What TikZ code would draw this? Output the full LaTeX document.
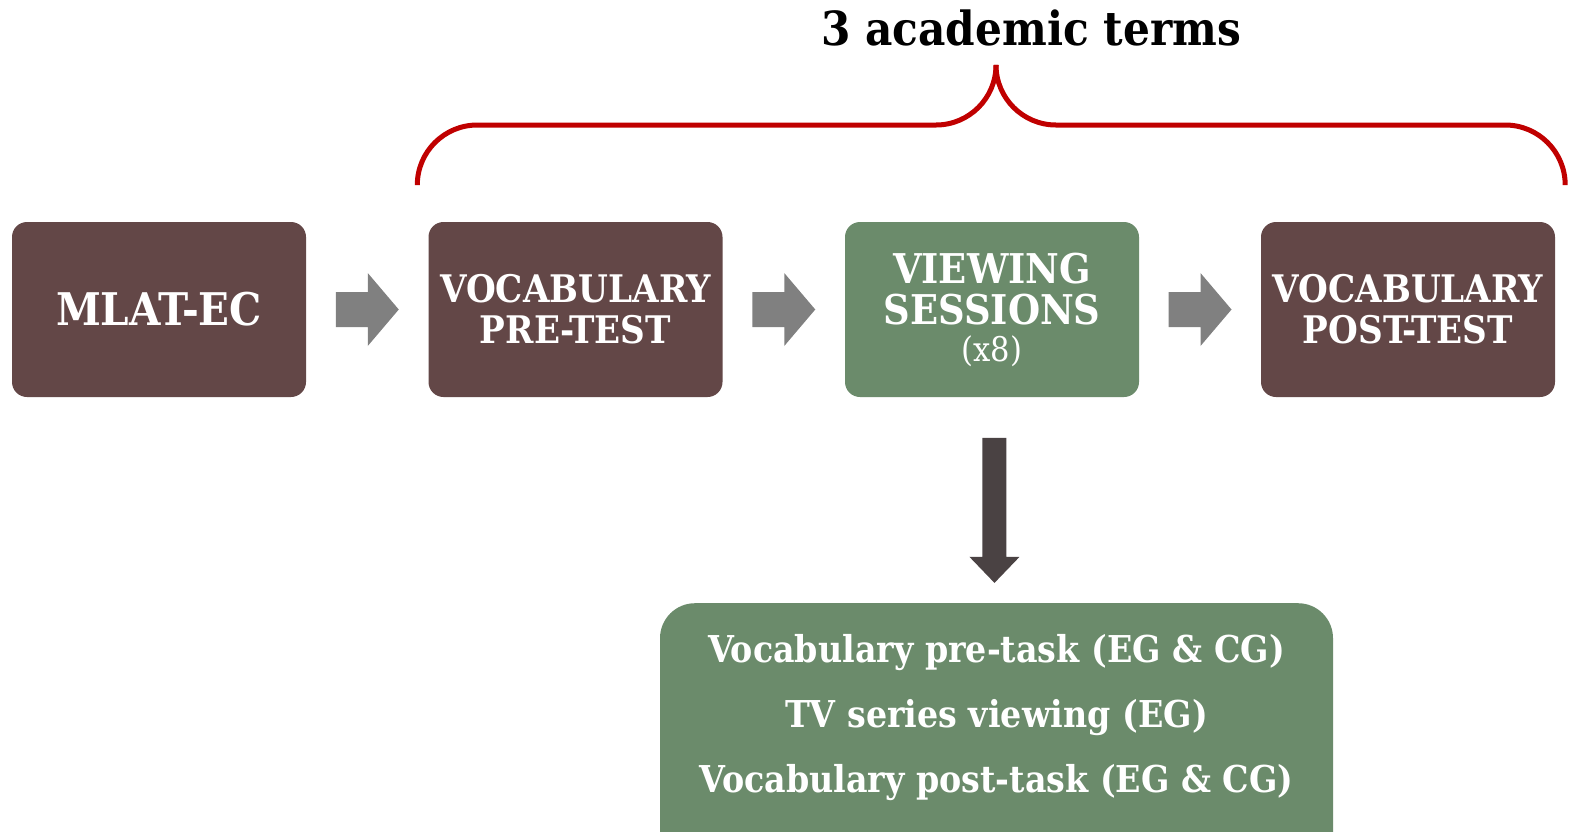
\documentclass[tikz,border=0pt]{standalone}
\usepackage{fontspec}
\setmainfont{DejaVu Serif}[FakeStretch=0.9]
\usetikzlibrary{calc}
\definecolor{boxbrown}{HTML}{634747}
\definecolor{boxgreen}{HTML}{6B8B6B}
\definecolor{arrgray}{HTML}{808080}
\definecolor{arrdark}{HTML}{4A4243}
\definecolor{bracered}{HTML}{C00000}
\tikzset{
  stagebox/.style={rounded corners=15pt, minimum width=294pt, minimum height=175pt,
    inner sep=0pt, text=white, align=center, font=\bfseries\fontsize{38}{41}\selectfont},
  brownbox/.style={stagebox, fill=boxbrown},
  greenbox/.style={stagebox, fill=boxgreen},
  tasktext/.style={text=white, font=\bfseries\fontsize{37}{40}\selectfont, anchor=base, inner sep=0pt},
  rarrow/.pic={\fill[arrgray] (-31.5,-17.5) -- (0.5,-17.5) -- (0.5,-36.5) -- (31.5,0)
      -- (0.5,36.5) -- (0.5,17.5) -- (-31.5,17.5) -- cycle;},
  darrow/.pic={\fill[arrdark] (-12,-72.5) -- (12,-72.5) -- (12,46.5) -- (25,46.5) -- (0,72.5)
      -- (-25,46.5) -- (-12,46.5) -- cycle;}
}
\begin{document}
\begin{tikzpicture}[x=1pt,y=-1pt]
\useasboundingbox (0,0) rectangle (1571,831);
% stage boxes
\node[brownbox] (mlat) at (159,309.5) {\fontsize{45}{48}\selectfont MLAT-EC};
\node[brownbox] (pre) at (575.5,309.5) {VOCABULARY\\PRE-TEST};
\node[greenbox] (view) at (992,309.5) {\fontsize{41}{45}\selectfont VIEWING\\\fontsize{41}{45}\selectfont SESSIONS\\[-4pt]{\mdseries\fontsize{34}{36}\selectfont (x8)}};
\node[brownbox] (post) at (1408,309.5) {VOCABULARY\\POST-TEST};
% horizontal arrows
\pic at ($(mlat.east)!0.5!(pre.west)$) {rarrow};
\pic at ($(pre.east)!0.5!(view.west)$) {rarrow};
\pic at ($(view.east)!0.5!(post.west)$) {rarrow};
% bottom box
\node[fill=boxgreen, rounded corners=35pt, minimum width=673pt, minimum height=270pt, inner sep=0pt,
  anchor=north] (tasks) at (996.5,603) {};
\pic at ($(view.south)!0.55!(tasks.north)$) {darrow};
\node[tasktext] (t1) at (996.5,662) {Vocabulary pre-task (EG \& CG)};
\node[tasktext] (t2) at (996.5,727) {TV series viewing (EG)};
\node[tasktext] (t3) at (996.5,792) {Vocabulary post-task (EG \& CG)};
% brace
\coordinate (bl) at ($(pre.north west)+(-11,-37)$);
\coordinate (br) at ($(post.north east)+(10,-37)$);
\coordinate (bm) at (996,125);
\coordinate (bt) at (996,66);
\draw[bracered, line width=5pt, rounded corners=60pt] (bl) |- (bm) -- (bt);
\draw[bracered, line width=5pt, rounded corners=60pt] (br) |- (bm) -- (bt);
\node[anchor=base, inner sep=0pt, font=\bfseries\fontsize{47}{50}\selectfont] (title) at (1031,45) {3 academic terms};
\end{tikzpicture}
\end{document}
